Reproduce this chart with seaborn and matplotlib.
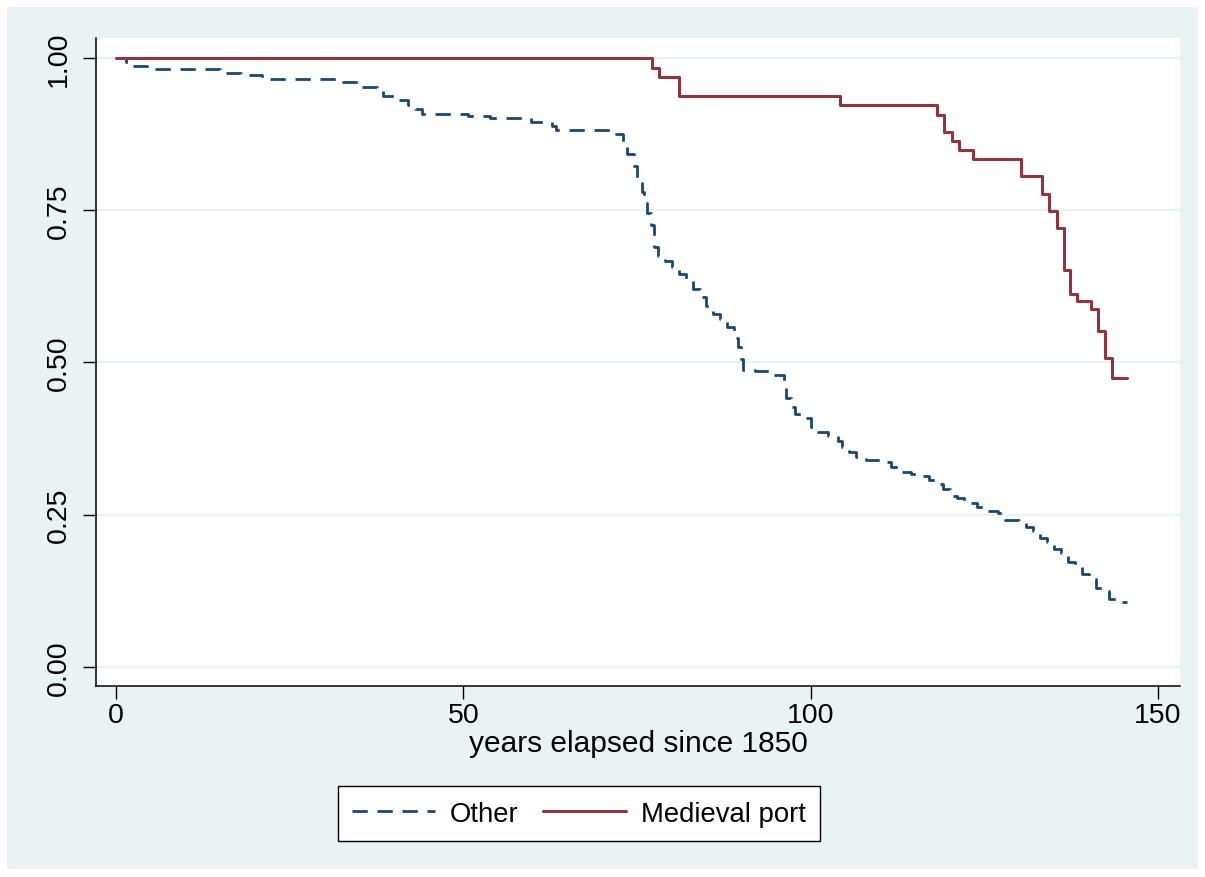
import matplotlib
matplotlib.use("Agg")
import matplotlib.pyplot as plt
import seaborn as sns
import pandas as pd
from matplotlib.patches import Rectangle

# ---- data ----
other_time = [0, 1.5, 2.5, 4.5, 15, 18, 21, 32.7, 35.4, 37.5, 38.5, 40.5, 42, 43, 44,
              50.7, 53.8, 59.8, 62.7, 63.4, 72, 73, 73.5, 74.5, 75, 75.7, 76, 76.5, 77,
              77.5, 78, 79, 80, 81, 82, 83, 84, 85, 86, 87, 88, 89, 89.5, 90, 90.3, 92,
              94, 96.2, 96.5, 97.2, 97.8, 99, 100, 101, 102.5, 104, 104.5, 105.5, 106.5,
              108, 110.5, 111.5, 112.5, 114.5, 116, 117, 118, 119, 120, 121, 122, 124,
              125, 127, 128, 130, 131, 132, 133, 134, 135, 136, 137, 138, 139, 140, 141,
              142, 143, 144, 145.5]
other_surv = [1.0, 0.993, 0.987, 0.982, 0.975, 0.972, 0.966, 0.960, 0.953, 0.945, 0.938,
              0.931, 0.923, 0.916, 0.908, 0.905, 0.902, 0.895, 0.888, 0.882, 0.875, 0.862,
              0.842, 0.822, 0.801, 0.780, 0.762, 0.745, 0.725, 0.689, 0.675, 0.667, 0.657,
              0.645, 0.637, 0.621, 0.607, 0.593, 0.579, 0.571, 0.558, 0.540, 0.525, 0.505,
              0.488, 0.485, 0.479, 0.460, 0.442, 0.427, 0.415, 0.409, 0.394, 0.386, 0.379,
              0.370, 0.361, 0.353, 0.345, 0.340, 0.337, 0.328, 0.320, 0.317, 0.314, 0.306,
              0.300, 0.292, 0.281, 0.277, 0.269, 0.263, 0.255, 0.253, 0.241, 0.240, 0.230,
              0.223, 0.212, 0.205, 0.194, 0.186, 0.172, 0.164, 0.153, 0.144, 0.130, 0.125,
              0.112, 0.107, 0.107]
port_time = [0, 77.1, 78.2, 81.1, 104.2, 118.2, 119.2, 120.3, 121.3, 123.3, 130.3, 133.3,
             134.3, 135.4, 136.4, 137.3, 138.3, 140.3, 141.3, 142.4, 143.4, 145.5]
port_surv = [1.0, 0.984, 0.968, 0.938, 0.923, 0.907, 0.878, 0.863, 0.849, 0.834, 0.806,
             0.777, 0.748, 0.720, 0.652, 0.613, 0.600, 0.588, 0.552, 0.507, 0.474, 0.474]
series_labels = ["Other", "Medieval port"]
x_ticks = [0, 50, 100, 150]
y_ticks = [0.0, 0.25, 0.5, 0.75, 1.0]
x_label = "years elapsed since 1850"

sns.set_theme(style="ticks")
plt.rcParams['font.family'] = ['Liberation Sans', 'DejaVu Sans']
plt.rcParams['text.color'] = 'black'

W, H = 1205, 878
fig = plt.figure(figsize=(W / 100, H / 100), dpi=100)
fig.patch.set_facecolor('white')
fig.add_artist(Rectangle((7 / W, 8 / H), (1198 - 7) / W, (870 - 8) / H,
                         transform=fig.transFigure, facecolor='#EAF2F3',
                         edgecolor='none', zorder=-10))

ax = fig.add_axes([96 / W, 1 - 687 / H, (1180 - 96) / W, (687 - 39) / H])
ax.set_facecolor('white')

navy = '#1A476F'
maroon = '#90353B'

sns.lineplot(x=other_time, y=other_surv, ax=ax, color=navy, linewidth=2.0,
             drawstyle='steps-post', estimator=None, sort=False)
sns.lineplot(x=port_time, y=port_surv, ax=ax, color=maroon, linewidth=2.2,
             drawstyle='steps-post', estimator=None, sort=False)
lines = ax.get_lines()
lines[0].set_dashes((5.5, 3.5))
lines[0].set_zorder(3)
lines[1].set_zorder(4)

ax.set_xlim(-2.88, 153.16)
ax.set_ylim(-0.0317, 1.0328)
ax.set_xticks(x_ticks)
ax.set_xticklabels([str(v) for v in x_ticks])
ax.set_yticks(y_ticks)
ax.set_yticklabels([f"{v:.2f}" for v in y_ticks], rotation=90, va='center')

ax.yaxis.grid(True, color='#EAF2F3', linewidth=1.6, zorder=0)
ax.xaxis.grid(False)
ax.set_axisbelow(True)

for s in ['top', 'right']:
    ax.spines[s].set_visible(False)
for s in ['left', 'bottom']:
    ax.spines[s].set_color('black')
    ax.spines[s].set_linewidth(1.1)

ax.tick_params(axis='both', direction='out', length=9.4, width=1.0, color='black',
               labelcolor='black', labelsize=20.5)
ax.tick_params(axis='x', pad=2)
ax.tick_params(axis='y', pad=8)

ax.set_xlabel(x_label, fontsize=21.5, color='black', labelpad=1)
ax.set_ylabel('')

leg = ax.legend(handles=lines, labels=series_labels, loc='center',
                bbox_to_anchor=(579 / W, 1 - 814.7 / H), bbox_transform=fig.transFigure,
                ncol=2, frameon=True, fancybox=False, framealpha=1, edgecolor='black',
                fontsize=19.8, handlelength=3.0, handletextpad=0.55, columnspacing=0.9,
                borderpad=0.52, borderaxespad=0)
leg.get_frame().set_linewidth(1.0)
for t in leg.get_texts():
    t.set_color('black')

fig.savefig('out.png', dpi=100, facecolor=fig.get_facecolor())
